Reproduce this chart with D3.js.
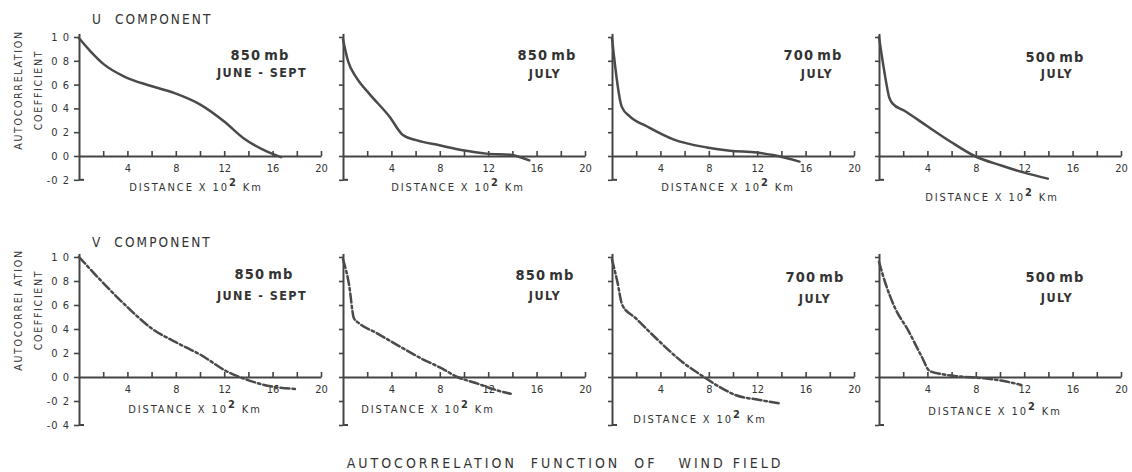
<!DOCTYPE html>
<html><head><meta charset="utf-8">
<script src="https://cdn.jsdelivr.net/npm/d3@7"></script>
<style>
body{margin:0;background:#fff;}
svg text{font-family:"DejaVu Sans Condensed","DejaVu Sans",sans-serif;fill:#333;white-space:pre;}
</style></head>
<body><svg id="c" width="1132" height="472"></svg>
<script>
// ---- data ----
const distTicks = [2,4,6,8,10,12,14,16,18,20];
const distLabels = [4,8,12,16,20];
const corrTicksU = [1.0,0.8,0.6,0.4,0.2,0.0,-0.2];
const corrTicksV = [1.0,0.8,0.6,0.4,0.2,0.0,-0.2,-0.4];
const panelLevels = ["850","850","700","500"];
const panelPeriods = ["JUNE - SEPT","JULY","JULY","JULY"];

const u850JuneSept = [[0,0.99],[0.95,0.88],[2.06,0.77],[3.7,0.67],[5.9,0.59],[7.85,0.53],[10.06,0.43],[12.0,0.29],[13.6,0.15],[15.6,0.034],[16.7,-0.01]];
const u850July = [[0,0.98],[0.41,0.80],[1.1,0.66],[2.2,0.52],[3.85,0.33],[4.95,0.176],[6.05,0.133],[7.98,0.09],[9.9,0.048],[11.85,0.02],[13.8,0.011],[15.4,-0.037]];
const u700July = [[0,0.99],[0.8,0.415],[1.49,0.33],[2.87,0.25],[5.07,0.14],[7.83,0.072],[9.75,0.044],[11.96,0.03],[13.3,0.008],[15.5,-0.047]];
const u500July = [[0,1.0],[0.44,0.71],[0.85,0.49],[1.13,0.44],[2.1,0.38],[4.0,0.25],[5.95,0.118],[7.9,0.0],[10.1,-0.08],[12.0,-0.14],[13.95,-0.19]];

const v850JuneSept = [[0,1.0],[1.94,0.79],[3.87,0.595],[6.07,0.40],[8.0,0.29],[10.2,0.176],[12.15,0.05],[13.8,-0.02],[15.7,-0.075],[17.9,-0.10]];
const v850July = [[0,0.98],[0.5,0.77],[0.9,0.49],[1.3,0.45],[2.7,0.37],[4.6,0.26],[6.55,0.15],[8.2,0.07],[9.45,0.0],[10.97,-0.05],[12.6,-0.107],[13.86,-0.14]];
const v700July = [[0,0.98],[0.44,0.795],[0.85,0.60],[1.96,0.49],[3.88,0.30],[5.81,0.125],[7.6,0.0],[8.84,-0.08],[10.2,-0.15],[12.1,-0.19],[13.9,-0.22]];
const v500July = [[0,0.96],[0.47,0.80],[1.3,0.58],[2.4,0.39],[3.5,0.175],[4.19,0.05],[5.15,0.025],[6.53,0.006],[8.7,-0.011],[10.1,-0.03],[11.76,-0.066]];

const uSeries = [u850JuneSept,u850July,u700July,u500July];
const vSeries = [v850JuneSept,v850July,v700July,v500July];

// ---- layout ----
const svg = d3.select("#c");
const ink = "#444";
const panelX = [79,343,612,879];
const rows = [
  {series:uSeries, ticks:corrTicksU, min:-0.2, zero:156, unit:119, dash:null, comp:"U  COMPONENT", compY:24, titleY:90,
   labPos:[[260,60,262,77],[547,60,545,78],[813,60,817,78],[1055,62,1057,78]],
   distPos:[[196,191],[458,191],[728,191],[992,201]]},
  {series:vSeries, ticks:corrTicksV, min:-0.4, zero:377, unit:120, dash:"9,3,2.5,3", comp:"V  COMPONENT", compY:247, titleY:310,
   labPos:[[264,279,262,300],[545,280,545,300],[815,282,815,303],[1055,282,1057,302]],
   distPos:[[195,413],[428,413],[700,423],[995,415]]}
];

rows.forEach((row,ri)=>{
  const y = d3.scaleLinear().domain([row.min,1.03]).range([row.zero-row.min*row.unit, row.zero-1.03*row.unit]);
  svg.append("text").attr("x",92).attr("y",row.compY).attr("font-size",13.5).attr("letter-spacing",2.1).text(row.comp);
  svg.append("text").attr("transform",`translate(22,${row.titleY}) rotate(-90)`).attr("text-anchor","middle")
    .attr("font-size",10.5).attr("letter-spacing",1.7).text(ri===0?"AUTOCORRELATION":"AUTOCORREI ATION");
  svg.append("text").attr("transform",`translate(42,${row.titleY}) rotate(-90)`).attr("text-anchor","middle")
    .attr("font-size",10.5).attr("letter-spacing",1.7).text("COEFFICIENT");

  row.series.forEach((data,pi)=>{
    const x = d3.scaleLinear().domain([0,20]).range([panelX[pi], panelX[pi]+242]);
    const g = svg.append("g");
    const ya = d3.axisLeft(y).tickValues(row.ticks).tickSizeInner(pi===0?5:4).tickSizeOuter(0).tickPadding(4)
      .tickFormat(d=> pi===0 ? (d<0?"-":"")+Math.abs(d).toFixed(1).replace("."," ") : "");
    const yg = g.append("g").attr("transform",`translate(${x(0)},0)`).call(ya);
    const xa = d3.axisBottom(x).tickValues(distTicks).tickSizeInner(-5).tickSizeOuter(0).tickPadding(8)
      .tickFormat(d=> distLabels.includes(d) ? d : "");
    const xg = g.append("g").attr("transform",`translate(0,${y(0)})`).call(xa);
    [yg,xg].forEach(a=>{
      a.select(".domain").attr("stroke",ink).attr("stroke-width",2);
      a.selectAll(".tick line").attr("stroke",ink).attr("stroke-width",1.6);
      a.selectAll(".tick text").attr("fill","#333").attr("font-size",11)
        .attr("font-family",'"DejaVu Sans Condensed","DejaVu Sans",sans-serif');
    });
    yg.selectAll(".tick text").attr("letter-spacing",1);
    g.append("line").attr("x1",x(0)).attr("x2",x(0)+5).attr("y1",y(row.min)).attr("y2",y(row.min))
      .attr("stroke",ink).attr("stroke-width",2);
    const line = d3.line().x(d=>x(d[0])).y(d=>y(d[1])).curve(d3.curveMonotoneX);
    const p = g.append("path").datum(data).attr("d",line).attr("fill","none")
      .attr("stroke","#4a4a4a").attr("stroke-width",2.5).attr("stroke-linecap","round");
    if(row.dash) p.attr("stroke-dasharray",row.dash);
    const lp = row.labPos[pi];
    const lt = g.append("text").attr("x",lp[0]).attr("y",lp[1]).attr("text-anchor","middle").attr("font-size",14.5)
      .attr("letter-spacing",1.2).attr("font-weight","bold");
    lt.append("tspan").text(panelLevels[pi]);
    lt.append("tspan").attr("dx",3).text("mb");
    g.append("text").attr("x",lp[2]).attr("y",lp[3]).attr("text-anchor","middle").attr("font-size",12.5)
      .attr("letter-spacing",1.4).attr("font-weight","bold").text(panelPeriods[pi]);
    const dp = row.distPos[pi];
    const t = g.append("text").attr("x",dp[0]).attr("y",dp[1]).attr("text-anchor","middle").attr("font-size",11).attr("letter-spacing",1.9);
    t.append("tspan").text("DISTANCE X 10");
    t.append("tspan").attr("dy",-5).attr("font-size",11).attr("font-weight","bold").text("2");
    t.append("tspan").attr("dy",5).text(" Km");
  });
});

svg.append("text").attr("x",565).attr("y",468).attr("text-anchor","middle").attr("font-size",14)
  .attr("letter-spacing",3.0).text("AUTOCORRELATION  FUNCTION  OF   WIND FIELD");
</script></body></html>
